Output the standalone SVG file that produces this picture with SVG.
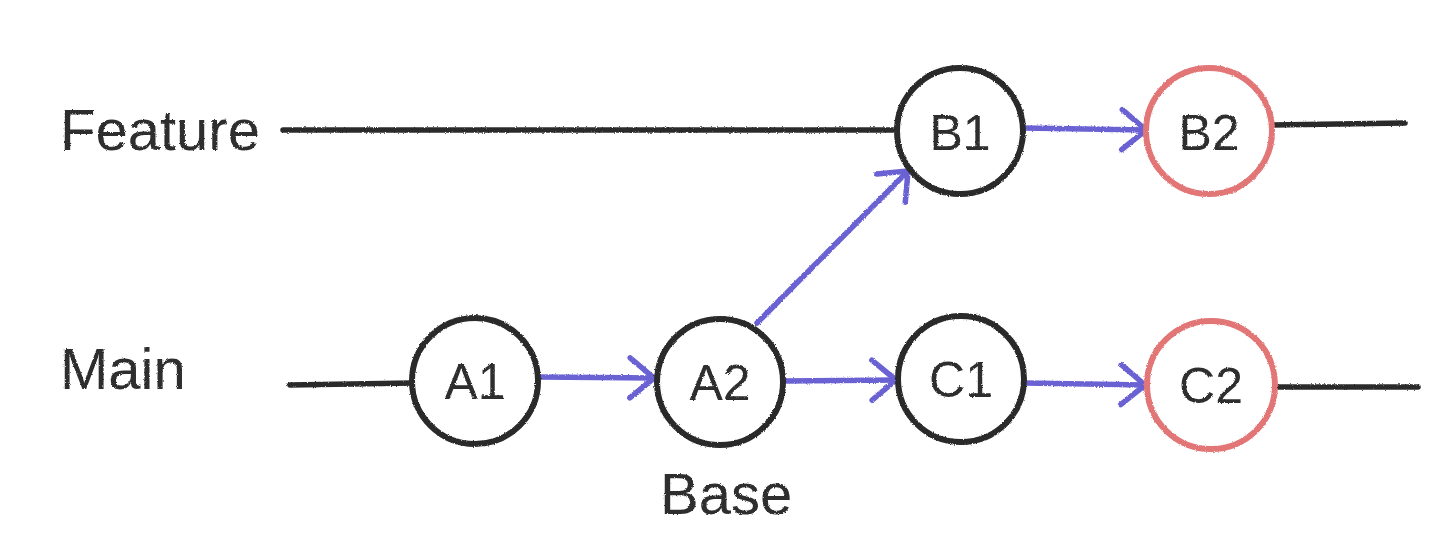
<svg xmlns="http://www.w3.org/2000/svg" width="1455" height="542" viewBox="0 0 1455 542">
<style>
.bg{fill:#ffffff}
.ln{stroke:#2b2b2b;stroke-width:5.5;fill:none;stroke-linecap:round}
.node{fill:#ffffff;stroke:#2b2b2b;stroke-width:6}
.node.red{stroke:#e27676}
.arr{stroke:#6b62d2;stroke-width:5.5;fill:none;stroke-linecap:round}
.lbl{font-family:"Liberation Sans",Arial,sans-serif;font-size:58px;fill:#2e2e2e}
.nl{font-family:"Liberation Sans",Arial,sans-serif;font-size:50px;fill:#2e2e2e;text-anchor:middle}
.pen{filter:url(#rough)}
</style>
<defs>
<filter id="rough" x="-5%" y="-5%" width="110%" height="110%">
<feTurbulence type="fractalNoise" baseFrequency="0.9" numOctaves="2" seed="3" result="n"/>
<feDisplacementMap in="SourceGraphic" in2="n" scale="2.5" xChannelSelector="R" yChannelSelector="G"/>
</filter>
<marker id="ah" viewBox="-32 -24 36 48" markerWidth="36" markerHeight="48" refX="0" refY="0" orient="auto" markerUnits="userSpaceOnUse">
<path d="M -24,-20 L 0,0 L -24,20" stroke="#6b62d2" stroke-width="5.5" fill="none" stroke-linecap="round" stroke-linejoin="round"/>
</marker>
</defs>
<rect class="bg" x="0" y="0" width="1455" height="542"/>
<g class="pen">
<g id="labels">
<text class="lbl" x="60" y="150">Feature</text>
<text class="lbl" x="60" y="389">Main</text>
<text class="lbl" x="660" y="514">Base</text>
</g>
<g id="connectors">
<line class="ln" x1="283" y1="130" x2="897" y2="130"/>
<line class="ln" x1="1272" y1="125" x2="1405" y2="123"/>
<line class="ln" x1="290" y1="385" x2="412" y2="383"/>
<line class="ln" x1="1278" y1="387" x2="1418" y2="387"/>
<line class="arr" x1="540" y1="377" x2="654" y2="378" marker-end="url(#ah)"/>
<line class="arr" x1="785" y1="381" x2="896" y2="380" marker-end="url(#ah)"/>
<line class="arr" x1="1025" y1="383" x2="1145" y2="385" marker-end="url(#ah)"/>
<line class="arr" x1="1023" y1="128" x2="1146" y2="130" marker-end="url(#ah)"/>
<line class="arr" x1="757" y1="323" x2="908" y2="171" marker-end="url(#ah)"/>
</g>
<g id="A1"><circle class="node" cx="475" cy="381" r="63"/><text class="nl" x="475" y="399">A1</text></g>
<g id="A2"><circle class="node" cx="720" cy="382" r="63"/><text class="nl" x="720" y="400">A2</text></g>
<g id="C1"><circle class="node" cx="961" cy="379" r="63"/><text class="nl" x="961" y="397">C1</text></g>
<g id="C2"><circle class="node red" cx="1211" cy="385" r="64"/><text class="nl" x="1211" y="403">C2</text></g>
<g id="B1"><circle class="node" cx="960" cy="131" r="63"/><text class="nl" x="960" y="150">B1</text></g>
<g id="B2"><circle class="node red" cx="1209" cy="131" r="63"/><text class="nl" x="1209" y="150">B2</text></g>
</g>
</svg>
